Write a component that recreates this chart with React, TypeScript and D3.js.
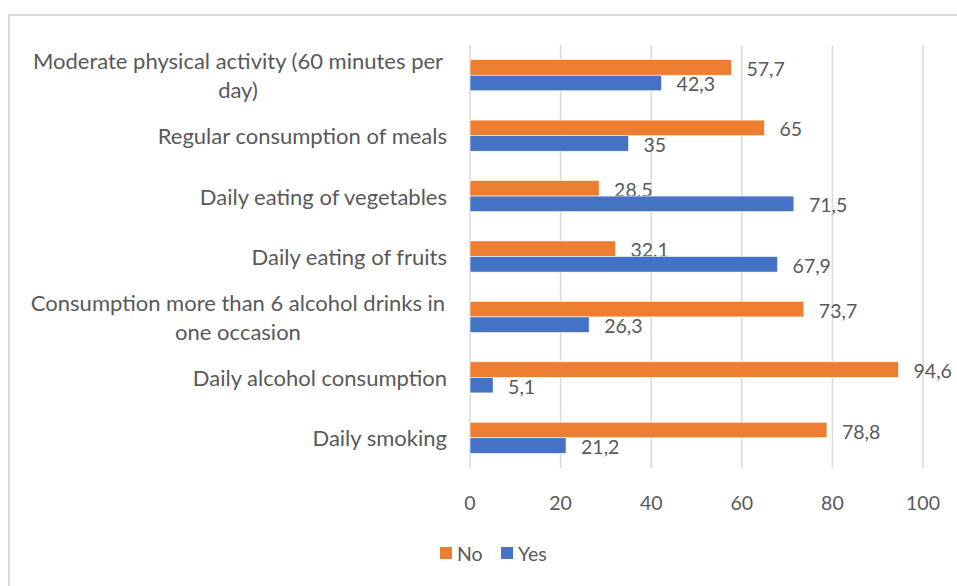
import React from "react";
import * as d3 from "d3";

const categories: string[][] = [
  ["Moderate physical activity (60 minutes per", "day)"],
  ["Regular consumption of meals"],
  ["Daily eating of vegetables"],
  ["Daily eating of fruits"],
  ["Consumption more than 6 alcohol drinks in", "one occasion"],
  ["Daily alcohol consumption"],
  ["Daily smoking"],
];
const noValues = [57.7, 65, 28.5, 32.1, 73.7, 94.6, 78.8];
const yesValues = [42.3, 35, 71.5, 67.9, 26.3, 5.1, 21.2];
const xTicks = [0, 20, 40, 60, 80, 100];
const seriesNames = ["No", "Yes"];
const seriesColors = ["#ED7D31", "#4472C4"];

const W = 957;
const H = 586;
const FONT = "Lato, 'Open Sans', sans-serif";
const TEXT = "#595959";

export default function App() {
  const x = d3.scaleLinear().domain([0, 100]).range([470, 923]);
  const y = d3
    .scaleBand<number>()
    .domain(d3.range(categories.length))
    .range([45, 468])
    .paddingInner(0.485)
    .paddingOuter(0.2425);
  const sub = d3.scaleBand<number>().domain([0, 1]).range([0, y.bandwidth()]);
  const series = [noValues, yesValues];
  const fmt = (v: number) => String(v).replace(".", ",");
  const numFs = 19.5;
  const catFs = 22;

  return (
    <svg
      width={W}
      height={H}
      style={{ position: "absolute", left: 0, top: 0, background: "#fff" }}
      fontFamily={FONT}
    >
      <rect x={9} y={15} width={W} height={H} fill="#fff" stroke="#d9d9d9" strokeWidth={2} />
      {xTicks.map((t) => (
        <line key={t} x1={x(t)} x2={x(t)} y1={45} y2={468} stroke="#d9d9d9" strokeWidth={1.5} />
      ))}
      {xTicks.map((t) => (
        <text key={"t" + t} x={x(t)} y={502} textAnchor="middle" dominantBaseline="central" fontSize={numFs} fill={TEXT}>
          {t}
        </text>
      ))}
      {categories.map((lines, i) => {
        const cy = (y(i) as number) + y.bandwidth() / 2;
        const lh = 29;
        const multi = lines.length > 1;
        const y0 = cy - ((lines.length - 1) * lh) / 2;
        return (
          <text key={"c" + i} textAnchor={multi ? "middle" : "end"} fontSize={catFs} fill={TEXT}>
            {lines.map((ln, k) => (
              <tspan key={k} x={multi ? 238 : 447} y={y0 + k * lh} dominantBaseline="central">
                {ln}
              </tspan>
            ))}
          </text>
        );
      })}
      {series.map((vals, s) =>
        vals.map((v, i) => {
          const by = (y(i) as number) + (sub(s) as number);
          return (
            <g key={s + "-" + i}>
              <rect x={x(0)} y={by} width={x(v) - x(0)} height={sub.bandwidth()} fill={seriesColors[s]} stroke="#fff" strokeWidth={0.6} />
              <text x={x(v) + 15} y={by + sub.bandwidth() / 2 + 1} dominantBaseline="central" fontSize={numFs} fill={TEXT}>
                {fmt(v)}
              </text>
            </g>
          );
        })
      )}
      {seriesNames.map((n, s) => {
        const lx = s === 0 ? 440 : 501;
        return (
          <g key={n}>
            <rect x={lx} y={547} width={12} height={12} fill={seriesColors[s]} />
            <text x={lx + 17} y={553} dominantBaseline="central" fontSize={numFs} fill={TEXT}>
              {n}
            </text>
          </g>
        );
      })}
    </svg>
  );
}
